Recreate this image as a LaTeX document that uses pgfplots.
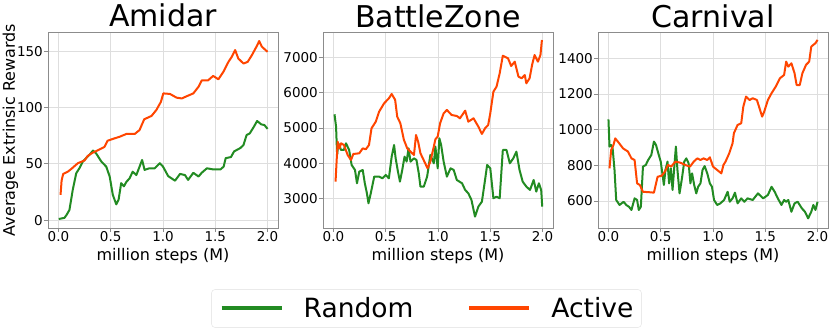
\documentclass[border=0pt]{standalone}
\usepackage{fontspec}
\setmainfont{DejaVu Sans}
\usepackage{pgfplots}
\pgfplotsset{compat=1.18}

\definecolor{rndgreen}{RGB}{34,139,34}
\definecolor{actorange}{RGB}{255,69,0}

\pgfplotsset{
  every axis title shift=0pt,
  panel/.style={
    scale only axis,
    width=230pt, height=196pt,
    anchor=south west,
    xmin=-0.1, xmax=2.1,
    xtick={0,0.5,1,1.5,2},
    xticklabels={0.0,0.5,1.0,1.5,2.0},
    /pgf/number format/assume math mode=true,
    tick label style={font=\fontsize{13.5}{16}\selectfont},
    xticklabel style={anchor=base, yshift=-9.5pt},
    yticklabel style={inner xsep=1pt},
    tick align=outside,
    major tick length=4pt,
    tick style={draw=black!45, line width=0.8pt},
    xtick pos=bottom, ytick pos=left,
    grid=major,
    major grid style={draw=black!13, line width=0.8pt},
    axis line style={draw=black!45, line width=0.8pt},
    xlabel={million steps (M)},
    label style={font=\fontsize{16}{19}\selectfont},
    xlabel style={at={(axis description cs:0.5,0)}, anchor=base, yshift=-32pt},
    title style={at={(axis description cs:0.5,1)}, anchor=base, yshift=5pt,
      font=\fontsize{30}{34}\selectfont},
    scaled y ticks=false,
    clip=true,
  },
  rnd/.style={draw=rndgreen, line width=2pt, line join=round, no markers},
  act/.style={draw=actorange, line width=2pt, line join=round, no markers},
}

\begin{document}
\begin{tikzpicture}[x=1pt,y=1pt]
\path[use as bounding box] (0,0) rectangle (831,335);

% Amidar
\begin{axis}[panel, at={(48pt,107pt)},
  title={Amidar},
  ymin=-7, ymax=167,
  ytick={0,50,100,150},
  ylabel={Average Extrinsic Rewards},
  ylabel style={at={(axis description cs:-0.1435,0.5)}, anchor=base},
]
\addplot[rnd] coordinates {
(0.003,1) (0.058,2) (0.08,5) (0.105,9) (0.137,27) (0.17,41.6) (0.2,46)
(0.233,52) (0.265,55) (0.297,58) (0.33,61.7) (0.36,59.3) (0.41,52)
(0.457,47.5) (0.49,38.7) (0.52,22.4) (0.553,14) (0.575,18) (0.6,32.8)
(0.626,30) (0.65,34) (0.68,37) (0.71,43) (0.745,40) (0.776,47.5)
(0.80,53.4) (0.824,44.6) (0.87,46) (0.92,46) (0.97,50.5) (1.0,47.5)
(1.05,39) (1.115,35) (1.163,41) (1.21,40) (1.24,35.7) (1.29,42)
(1.34,38.7) (1.37,42) (1.42,46) (1.48,45) (1.55,45) (1.58,47.5)
(1.60,55) (1.65,56) (1.68,61) (1.74,64) (1.77,66.7) (1.80,75.6)
(1.83,77) (1.87,83) (1.90,88) (1.94,85) (1.97,84.4) (2.0,81)
};
\addplot[act] coordinates {
(0.02,22.4) (0.03,35) (0.045,41) (0.09,43) (0.13,46) (0.185,50.5)
(0.25,53) (0.28,57) (0.33,60) (0.377,62) (0.44,65) (0.47,70.5)
(0.537,72.6) (0.585,74) (0.65,76.5) (0.73,76.5) (0.776,80) (0.82,89.5)
(0.89,92.5) (0.936,97.7) (0.98,105) (1.003,112.5) (1.067,112)
(1.13,108.7) (1.18,108) (1.227,110) (1.29,112.5) (1.34,118.4)
(1.37,124) (1.43,124) (1.48,128) (1.53,125) (1.58,132) (1.626,140.5)
(1.658,145) (1.69,151) (1.72,143.5) (1.77,139) (1.81,140.5)
(1.85,146.4) (1.90,155) (1.92,159) (1.945,154) (2.0,149.4)
};
\end{axis}

% BattleZone
\begin{axis}[panel, at={(323pt,107pt)},
  title={BattleZone},
  ymin=2155, ymax=7730,
  ytick={3000,4000,5000,6000,7000},
  yticklabels={3000,4000,5000,6000,7000},
  legend columns=2,
  legend cell align=left,
  legend image code/.code={\draw[#1, line width=4pt] (0pt,0pt) -- (60pt,0pt);},
  legend style={at={(axis description cs:0.45,-0.4107)}, anchor=center,
    draw=black!12, rounded corners=3pt, fill=white,
    font=\fontsize{26.5}{30}\selectfont,
    inner xsep=8pt, inner ysep=6pt,
    nodes={inner xsep=0pt, inner ysep=2pt},
    /tikz/column 1/.style={column sep=20pt},
    /tikz/column 2/.style={column sep=54pt},
    /tikz/column 3/.style={column sep=20pt}},
]
\addplot[rnd] coordinates {
(0.01,5389) (0.025,5038) (0.035,4232) (0.047,4564) (0.073,4374)
(0.10,4374) (0.12,4564) (0.15,4374) (0.174,3948) (0.206,3806)
(0.225,3427) (0.247,3758) (0.28,3806) (0.30,3427) (0.32,3142)
(0.335,2858) (0.357,3142) (0.39,3616) (0.437,3616) (0.468,3569)
(0.5,3664) (0.53,3569) (0.557,4185) (0.58,4517) (0.595,4137)
(0.617,3758) (0.636,3474) (0.658,3806) (0.68,4185) (0.7,4043)
(0.718,4422) (0.737,4043) (0.77,4137) (0.794,4090) (0.816,3711)
(0.832,3332) (0.864,3332) (0.896,3616) (0.927,4232) (0.96,3995)
(0.975,4470) (0.997,3853) (1.013,4706) (1.03,4517) (1.054,4043)
(1.085,3616) (1.12,3853) (1.15,3806) (1.18,3521) (1.23,3427)
(1.26,3237) (1.29,3142) (1.32,2953) (1.354,2479) (1.386,2763)
(1.42,2905) (1.45,3521) (1.47,3948) (1.50,3853) (1.53,3000)
(1.56,3047) (1.59,3000) (1.62,4374) (1.655,4374) (1.687,3995)
(1.72,4137) (1.75,4327) (1.78,3806) (1.81,3474) (1.845,3332)
(1.88,3237) (1.915,3521) (1.94,3190) (1.965,3427) (1.987,3237)
(1.997,2763)
};
\addlegendentry{Random}
\addplot[act] coordinates {
(0.02,3474) (0.04,4610) (0.057,4420) (0.073,4564) (0.10,4517)
(0.136,4232) (0.168,4090) (0.19,4260) (0.247,4280) (0.28,4420)
(0.31,4394) (0.34,4517) (0.364,4990) (0.405,5180) (0.437,5465)
(0.484,5700) (0.53,5843) (0.557,5967) (0.59,5800) (0.61,5322)
(0.64,5133) (0.674,4660) (0.706,4420) (0.753,4280) (0.77,4232)
(0.79,4800) (0.81,4610) (0.832,4280) (0.87,4043) (0.90,3853)
(0.927,4043) (0.96,4470) (0.975,4678) (0.997,4754) (1.02,5133)
(1.054,5417) (1.085,5512) (1.13,5370) (1.18,5341) (1.21,5275)
(1.26,5493) (1.29,5180) (1.34,5275) (1.386,5038) (1.42,4830)
(1.45,4990) (1.48,5085) (1.50,5417) (1.53,6033) (1.56,6175)
(1.59,6554) (1.62,7057) (1.67,6980) (1.70,6763) (1.734,6886)
(1.77,6460) (1.80,6412) (1.83,6507) (1.845,6270) (1.876,6412)
(1.90,6792) (1.924,7076) (1.956,6886) (1.98,7076) (1.994,7502)
};
\addlegendentry{Active}
\end{axis}

% Carnival
\begin{axis}[panel, at={(598pt,107pt)},
  title={Carnival},
  ymin=449, ymax=1547,
  ytick={600,800,1000,1200,1400},
  yticklabels={600,800,1000,1200,1400},
]
\addplot[rnd] coordinates {
(0.0,1058) (0.01,905) (0.026,914) (0.04,895) (0.058,774) (0.074,606)
(0.106,578) (0.145,596) (0.17,578) (0.196,568) (0.22,550) (0.25,615)
(0.274,606) (0.29,550) (0.31,568) (0.33,793) (0.357,802) (0.38,830)
(0.41,858) (0.435,933) (0.455,914) (0.477,867) (0.5,821) (0.52,736)
(0.53,690) (0.545,774) (0.565,821) (0.58,699) (0.597,783) (0.613,662)
(0.63,793) (0.645,905) (0.66,774) (0.68,643) (0.703,727) (0.725,821)
(0.745,839) (0.767,811) (0.784,699) (0.8,755) (0.82,690) (0.84,643)
(0.858,680) (0.88,699) (0.9,774) (0.92,796) (0.945,755) (0.97,699)
(0.99,680) (1.01,606) (1.04,578) (1.07,587) (1.106,606) (1.14,652)
(1.16,596) (1.187,615) (1.21,647) (1.235,587) (1.27,615) (1.3,596)
(1.33,615) (1.38,606) (1.43,643) (1.48,615) (1.525,634) (1.56,680)
(1.59,652) (1.62,615) (1.655,578) (1.68,606) (1.70,596) (1.72,606)
(1.75,540) (1.78,587) (1.81,596) (1.85,559) (1.88,540) (1.91,503)
(1.94,540) (1.96,578) (1.98,550) (2.0,596)
};
\addplot[act] coordinates {
(0.01,783) (0.026,886) (0.048,914) (0.065,951) (0.09,933) (0.14,895)
(0.187,877) (0.22,839) (0.25,830) (0.274,699) (0.3,690) (0.33,652)
(0.4,649) (0.435,647) (0.47,736) (0.51,742) (0.54,765) (0.57,802)
(0.6,793) (0.64,821) (0.687,815) (0.735,802) (0.78,793) (0.816,821)
(0.85,839) (0.88,830) (0.91,839) (0.945,830) (0.97,845) (1.0,793)
(1.04,774) (1.08,755) (1.1,802) (1.12,821) (1.155,867) (1.187,923)
(1.2,980) (1.235,1026) (1.27,1036) (1.29,1129) (1.316,1185)
(1.35,1166) (1.38,1176) (1.42,1166) (1.445,1120) (1.47,1073)
(1.49,1101) (1.525,1166) (1.56,1204) (1.6,1241) (1.64,1288)
(1.68,1306) (1.70,1381) (1.72,1353) (1.75,1372) (1.78,1316)
(1.80,1250) (1.83,1250) (1.855,1316) (1.89,1363) (1.92,1381)
(1.94,1465) (1.96,1475) (1.98,1484) (2.0,1503)
};
\end{axis}
\end{tikzpicture}
\end{document}
